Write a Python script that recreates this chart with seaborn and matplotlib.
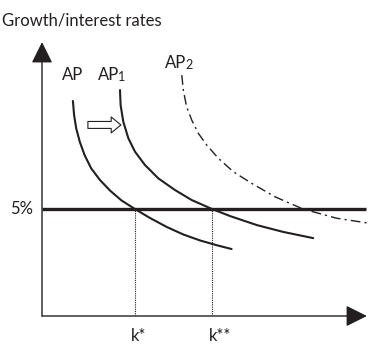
import matplotlib
matplotlib.use("Agg")
import matplotlib.pyplot as plt
import seaborn as sns

# values (x: capital k, y: growth / interest rate in %)
ap_x = [1.03, 1.07, 1.14, 1.26, 1.42, 1.64, 1.93, 2.27, 2.65, 3.10, 3.60, 4.16, 4.71, 5.27, 5.82, 6.32]
ap_y = [10.05, 9.39, 8.77, 8.14, 7.52, 6.90, 6.36, 5.86, 5.40, 5.00, 4.58, 4.16, 3.81, 3.53, 3.31, 3.13]

ap1_x = [2.60, 2.62, 2.71, 2.88, 3.10, 3.43, 3.88, 4.43, 4.99, 5.67, 6.27, 7.16, 8.04, 9.04]
ap1_y = [10.56, 9.86, 9.08, 8.30, 7.68, 7.06, 6.43, 5.89, 5.42, 5.00, 4.67, 4.25, 3.93, 3.64]

ap2_x = [4.66, 4.71, 4.82, 4.99, 5.21, 5.49, 5.88, 6.38, 6.99, 7.77, 8.70, 9.82, 10.93]
ap2_y = [11.26, 10.56, 9.78, 9.16, 8.54, 7.99, 7.37, 6.74, 6.20, 5.57, 5.00, 4.57, 4.33]

rate = 5.0
k_star = 3.10
k_star2 = 5.67
x_max = 11.0
y_max = 12.9

sns.set_style("white")
plt.rcParams['font.family'] = ['Lato', 'DejaVu Sans']
ink = '#231f20'

fig = plt.figure(figsize=(3.72, 3.45), dpi=100)
ax = fig.add_axes([42 / 372, 29 / 345, 330 / 372, 276 / 345])
ax.set_xlim(0, x_max)
ax.set_ylim(0, y_max)
ax.axis('off')

# axes with arrow heads
ax.annotate('', xy=(0, y_max - 0.1), xytext=(0, 0),
            arrowprops=dict(arrowstyle='-|>,head_length=1.0,head_width=0.5',
                            mutation_scale=13, lw=1.0, color=ink,
                            shrinkA=0, shrinkB=0))
ax.annotate('', xy=(x_max - 0.17, 0), xytext=(0, 0),
            arrowprops=dict(arrowstyle='-|>,head_length=1.0,head_width=0.5',
                            mutation_scale=13, lw=1.0, color=ink,
                            shrinkA=0, shrinkB=0))

# curves
sns.lineplot(x=ap_x, y=ap_y, sort=False, color=ink, lw=1.5, ax=ax)
sns.lineplot(x=ap1_x, y=ap1_y, sort=False, color=ink, lw=1.5, ax=ax)
sns.lineplot(x=ap2_x, y=ap2_y, sort=False, color=ink, lw=1.0,
             linestyle=(0, (7, 3, 1.5, 3)), ax=ax)

# interest rate line and the two k levels
ax.plot([0, 10.8], [rate, rate], color=ink, lw=2.4, solid_capstyle='butt')
ax.plot([k_star, k_star], [0, rate], color=ink, lw=0.8, linestyle=(0, (1, 1)))
ax.plot([k_star2, k_star2], [0, rate], color=ink, lw=0.8, linestyle=(0, (1, 1)))

# shift arrow
ax.annotate('', xy=(2.63, 8.93), xytext=(1.53, 8.93),
            arrowprops=dict(arrowstyle='simple,head_length=0.7,head_width=1.15,tail_width=0.5',
                            mutation_scale=10, fc='white', ec=ink, lw=0.8,
                            shrinkA=0, shrinkB=0))

fs = 12
ax.text(0.67, 11.03, 'AP', fontsize=fs, color=ink, va='baseline', ha='left')
t1 = ax.text(1.87, 11.03, 'AP', fontsize=fs, color=ink, va='baseline', ha='left')
ax.annotate('1', xy=(1, 0), xycoords=t1, xytext=(-0.8, 0), textcoords='offset points',
            fontsize=fs * 0.75, color=ink, va='bottom', ha='left')
t2 = ax.text(4.10, 11.59, 'AP', fontsize=fs, color=ink, va='baseline', ha='left')
ax.annotate('2', xy=(1, 0), xycoords=t2, xytext=(-0.8, 0), textcoords='offset points',
            fontsize=fs * 0.75, color=ink, va='bottom', ha='left')

ax.text(-0.3, rate, '5%', fontsize=fs, color=ink, va='center', ha='right')
ax.text(k_star - 0.13, -1.15, 'k*', fontsize=fs, color=ink, va='baseline', ha='left')
ax.text(k_star2 - 0.1, -1.15, 'k**', fontsize=fs, color=ink, va='baseline', ha='left')

fig.text(2 / 372, 1 - 25 / 345, 'Growth/interest rates', fontsize=fs, color=ink,
         va='baseline', ha='left')

fig.savefig('out.png', dpi=100)
